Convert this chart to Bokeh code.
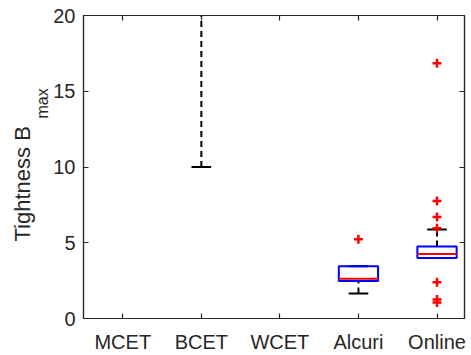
from bokeh.plotting import figure
from bokeh.models import (Range1d, LinearAxis, FixedTicker, Title, ColumnDataSource)
from bokeh.embed import file_html
from bokeh.resources import INLINE

# ---- data ----
categories = ["MCET", "BCET", "WCET", "Alcuri", "Online"]
positions = [1, 2, 3, 4, 5]

# box statistics (only groups with drawn boxes); BCET box lies above the visible range
box_pos = [2, 4, 5]
lower_whisker = [10.0, 1.65, 4.0]
q1 = [25.0, 2.47, 4.0]
median = [30.0, 2.63, 4.26]
q3 = [35.0, 3.45, 4.75]
upper_whisker = [45.0, 3.45, 5.88]

outlier_pos = [4, 5, 5, 5, 5, 5, 5, 5]
outlier_val = [5.23, 16.85, 7.75, 6.7, 5.95, 2.4, 1.25, 1.05]

y_ticks = [0, 5, 10, 15, 20]

# ---- style ----
AX = "#262626"
FONT = "Liberation Sans"
BOX_HALF = 0.25
CAP_HALF = 0.125

p = figure(width=471, height=355, output_backend="svg", toolbar_location=None,
           x_range=Range1d(0.5, 5.35), y_range=Range1d(0, 20),
           min_border_left=83, min_border_right=7, min_border_top=15, min_border_bottom=33)
p.grid.visible = False
p.outline_line_color = AX
p.outline_line_width = 1.2
p.background_fill_color = "white"
p.border_fill_color = "white"

def style_axis(ax):
    ax.axis_line_color = AX
    ax.axis_line_width = 1.2
    ax.major_tick_line_color = AX
    ax.major_tick_line_width = 1.2
    ax.major_tick_in = 5
    ax.major_tick_out = 0
    ax.minor_tick_line_color = None
    ax.major_label_text_font = FONT
    ax.major_label_text_font_size = "20px"
    ax.major_label_text_color = AX

xb = p.xaxis[0]
xb.ticker = FixedTicker(ticks=positions)
xb.major_label_overrides = {pp: c for pp, c in zip(positions, categories)}
style_axis(xb)
xb.major_label_standoff = 12

yl = p.yaxis[0]
yl.ticker = FixedTicker(ticks=y_ticks)
style_axis(yl)
yl.major_label_standoff = 8

top = LinearAxis(ticker=FixedTicker(ticks=positions),
                 major_label_overrides={pp: "" for pp in positions})
style_axis(top)
top.major_label_standoff = 0
p.add_layout(top, "above")
right = LinearAxis(ticker=FixedTicker(ticks=y_ticks),
                   major_label_overrides={t: "" for t in y_ticks})
style_axis(right)
right.major_label_standoff = 0
p.add_layout(right, "right")

src = ColumnDataSource(dict(
    x=box_pos,
    left=[x - BOX_HALF for x in box_pos],
    right=[x + BOX_HALF for x in box_pos],
    cl=[x - CAP_HALF for x in box_pos],
    cr=[x + CAP_HALF for x in box_pos],
    lw=lower_whisker, q1=q1, med=median, q3=q3, uw=upper_whisker,
))

# whiskers (dashed)
p.segment(x0="x", x1="x", y0="q3", y1="uw", source=src, line_color="black",
          line_width=2, line_dash="6 4")
p.segment(x0="x", x1="x", y0="lw", y1="q1", source=src, line_color="black",
          line_width=2, line_dash="6 4")
# caps
p.segment(x0="cl", x1="cr", y0="uw", y1="uw", source=src, line_color="black", line_width=2)
p.segment(x0="cl", x1="cr", y0="lw", y1="lw", source=src, line_color="black", line_width=2)
# boxes
p.quad(left="left", right="right", bottom="q1", top="q3", source=src,
       fill_color=None, line_color="#0000FF", line_width=2)
# medians
p.segment(x0="left", x1="right", y0="med", y1="med", source=src,
          line_color="#FF0000", line_width=2)
# outliers
p.scatter(outlier_pos, outlier_val, marker="cross", size=9, line_width=2.5,
          line_color="#FF0000")

# y-axis label with subscript, built from two side titles
p.add_layout(Title(text="max", align="left", offset=200, standoff=0,
                   text_font=FONT, text_font_size="16px", text_color=AX,
                   text_font_style="normal"), "left")
p.add_layout(Title(text="Tightness B", align="left", offset=77, standoff=-7,
                   text_font=FONT, text_font_size="22px", text_color=AX,
                   text_font_style="normal"), "left")

open("out.html", "w").write(file_html(p, INLINE))
